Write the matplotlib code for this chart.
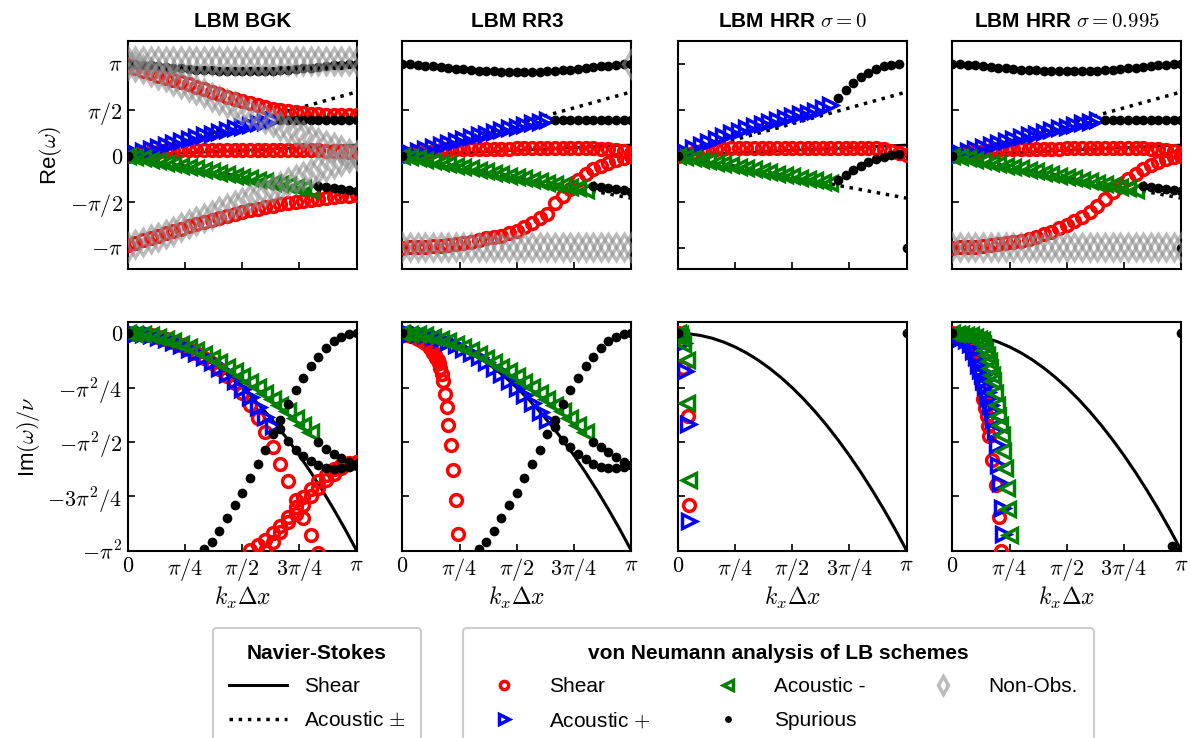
import numpy as np
import matplotlib.pyplot as plt
from matplotlib.lines import Line2D

plt.rcParams['font.family'] = ['Liberation Sans Narrow', 'Liberation Sans', 'DejaVu Sans']
plt.rcParams['mathtext.fontset'] = 'cm'

# wavenumber samples k_x dx / pi
K = [0.0, 0.033, 0.067, 0.1, 0.133, 0.167, 0.2, 0.233, 0.267, 0.3, 0.333,
     0.367, 0.4, 0.433, 0.467, 0.5, 0.533, 0.567, 0.6, 0.633, 0.667,
     0.7, 0.733, 0.767, 0.8, 0.833, 0.867, 0.9, 0.933, 0.967, 1.0]

titles = ['LBM BGK', 'LBM RR3', r'LBM HRR $\sigma=0$', r'LBM HRR $\sigma=0.995$']

# Navier-Stokes reference (Re in units of pi, Im/nu in units of pi^2)
ns_k = [0.0, 1.0]
ns_re_shear = [0.0, 0.115]
ns_re_acp = [0.0, 0.692]
ns_re_acm = [0.0, -0.462]
ns_k_im = [0.0, 0.05, 0.1, 0.15, 0.2, 0.25, 0.3, 0.35, 0.4, 0.45, 0.5,
           0.55, 0.6, 0.65, 0.7, 0.75, 0.8, 0.85, 0.9, 0.95, 1.0]
ns_im_shear = [0.0, -0.0025, -0.01, -0.0225, -0.04, -0.0625, -0.09, -0.1225, -0.16,
               -0.2025, -0.25, -0.3025, -0.36, -0.4225, -0.49, -0.5625, -0.64,
               -0.7225, -0.81, -0.9025, -1.0]

# ---------- Re(omega)/pi, series given as (first index in K, values) ----------
# BGK
bgk_re_spur_top = (0, [1.0, 0.995, 0.99, 0.982, 0.974, 0.966, 0.957, 0.95, 0.942, 0.935, 0.93,
                       0.925, 0.92, 0.917, 0.915, 0.914, 0.914, 0.915, 0.918, 0.922, 0.927,
                       0.933, 0.94, 0.948, 0.956, 0.964, 0.972, 0.98, 0.988, 0.995, 1.0])
bgk_re_spur_mid = (20, [0.392, 0.39, 0.39, 0.389, 0.388, 0.388, 0.387, 0.387, 0.386, 0.386, 0.386])
bgk_re_spur_low = (25, [-0.325, -0.337, -0.35, -0.362, -0.373, -0.385])
bgk_re_shear_up = (0, [0.98, 0.95, 0.92, 0.895, 0.87, 0.848, 0.825, 0.8, 0.775, 0.75, 0.722,
                       0.695, 0.668, 0.642, 0.617, 0.593, 0.57, 0.548, 0.528, 0.51, 0.495,
                       0.482, 0.471, 0.462, 0.455, 0.45, 0.446, 0.443, 0.441, 0.44, 0.44])
bgk_re_shear_mid = (0, [0.0, 0.012, 0.024, 0.035, 0.043, 0.05, 0.054, 0.057, 0.059, 0.06, 0.06,
                        0.06, 0.06, 0.06, 0.06, 0.06, 0.06, 0.06, 0.06, 0.06, 0.06,
                        0.06, 0.06, 0.06, 0.06, 0.058, 0.055, 0.05, 0.045, 0.04, 0.035])
bgk_re_shear_low = (0, [-0.97, -0.945, -0.92, -0.895, -0.87, -0.845, -0.82, -0.795, -0.77, -0.745,
                        -0.72, -0.697, -0.675, -0.653, -0.632, -0.612, -0.593, -0.575, -0.558,
                        -0.542, -0.527, -0.513, -0.5, -0.488, -0.477, -0.467, -0.458, -0.45,
                        -0.443, -0.437, -0.432])
bgk_re_acp = (0, [0.0, 0.025, 0.05, 0.073, 0.096, 0.118, 0.14, 0.16, 0.18, 0.2, 0.22, 0.24,
                  0.26, 0.278, 0.296, 0.314, 0.332, 0.35, 0.367, 0.383])
bgk_re_acm = (0, [0.0, -0.015, -0.031, -0.046, -0.062, -0.077, -0.092, -0.108, -0.123, -0.139,
                  -0.154, -0.169, -0.185, -0.2, -0.216, -0.231, -0.246, -0.262, -0.277,
                  -0.293, -0.308, -0.323, -0.339, -0.354, -0.37])
bgk_re_nonobs_top = (0, [1.03, 1.03, 1.03, 1.03, 1.03, 1.03, 1.03, 1.03, 1.03, 1.03, 1.03,
                         1.03, 1.03, 1.03, 1.03, 1.03, 1.03, 1.03, 1.03, 1.03, 1.03,
                         1.03, 1.03, 1.03, 1.03, 1.03, 1.03, 1.03, 1.03, 1.03, 1.03])
bgk_re_nonobs_dn = (0, [0.99, 0.965, 0.94, 0.91, 0.88, 0.85, 0.815, 0.78, 0.745, 0.71, 0.675,
                        0.64, 0.605, 0.57, 0.535, 0.5, 0.465, 0.43, 0.395, 0.36, 0.325,
                        0.29, 0.255, 0.22, 0.185, 0.15, 0.12, 0.09, 0.06, 0.03, 0.005])
bgk_re_nonobs_up = (0, [-0.99, -0.965, -0.94, -0.91, -0.88, -0.85, -0.815, -0.78, -0.745, -0.71,
                        -0.675, -0.64, -0.605, -0.57, -0.535, -0.5, -0.465, -0.43, -0.395,
                        -0.36, -0.325, -0.29, -0.255, -0.22, -0.185, -0.15, -0.12, -0.09,
                        -0.06, -0.03, -0.005])

# RR3
rr3_re_spur_top = (0, [1.0, 0.994, 0.987, 0.979, 0.97, 0.961, 0.952, 0.944, 0.936, 0.929, 0.923,
                       0.918, 0.914, 0.911, 0.909, 0.908, 0.908, 0.909, 0.912, 0.916, 0.921,
                       0.927, 0.934, 0.942, 0.951, 0.96, 0.969, 0.978, 0.987, 0.995, 1.0])
rr3_re_spur_mid = (20, [0.392, 0.39, 0.39, 0.389, 0.388, 0.388, 0.387, 0.387, 0.386, 0.386, 0.386])
rr3_re_spur_low = (25, [-0.325, -0.337, -0.35, -0.362, -0.373, -0.39])
rr3_re_shear_mid = (0, [0.0, 0.015, 0.03, 0.043, 0.053, 0.06, 0.065, 0.068, 0.07, 0.072, 0.073,
                        0.074, 0.075, 0.076, 0.077, 0.078, 0.078, 0.079, 0.079, 0.08, 0.08,
                        0.08, 0.08, 0.08, 0.079, 0.078, 0.075, 0.07, 0.06, 0.045, 0.03])
rr3_re_shear_low = (0, [-1.0, -0.998, -0.995, -0.99, -0.985, -0.978, -0.97, -0.96, -0.948, -0.935,
                        -0.92, -0.9, -0.88, -0.87, -0.845, -0.815, -0.78, -0.73, -0.68, -0.63,
                        -0.52, -0.44, -0.36, -0.27, -0.2, -0.15, -0.11, -0.075, -0.05, -0.025,
                        -0.005])
rr3_re_acp = bgk_re_acp
rr3_re_acm = bgk_re_acm
rr3_re_nonobs = (0, [-0.99, -0.99, -0.99, -0.99, -0.99, -0.99, -0.99, -0.99, -0.99, -0.99, -0.99,
                     -0.99, -0.99, -0.99, -0.99, -0.99, -0.99, -0.99, -0.99, -0.99, -0.99,
                     -0.99, -0.99, -0.99, -0.99, -0.99, -0.99, -0.99, -0.99, -0.99, -0.99])
rr3_re_nonobs_end = (30, [1.0])

# HRR sigma = 0
hrr0_re_shear_mid = (0, [0.0, 0.015, 0.03, 0.045, 0.058, 0.068, 0.075, 0.08, 0.083, 0.085, 0.086,
                         0.087, 0.087, 0.088, 0.088, 0.088, 0.088, 0.088, 0.088, 0.088, 0.088,
                         0.087, 0.087, 0.086, 0.085, 0.083, 0.078, 0.07, 0.055, 0.03, 0.005])
hrr0_re_acp = (0, [0.0, 0.04, 0.08, 0.115, 0.15, 0.185, 0.215, 0.245, 0.272, 0.298, 0.322,
                   0.345, 0.367, 0.388, 0.408, 0.428, 0.448, 0.468, 0.49, 0.515, 0.545])
hrr0_re_acm = (0, [0.0, -0.015, -0.03, -0.045, -0.06, -0.075, -0.09, -0.105, -0.12, -0.135,
                   -0.15, -0.165, -0.18, -0.195, -0.21, -0.225, -0.24, -0.255, -0.27,
                   -0.285, -0.3])
hrr0_re_spur_up = (21, [0.63, 0.71, 0.79, 0.85, 0.9, 0.945, 0.97, 0.985, 0.995])
hrr0_re_spur_low = (21, [-0.265, -0.21, -0.16, -0.11, -0.07, -0.037, -0.012, 0.005, 0.02])
hrr0_re_spur_end = (30, [-1.0])

# HRR sigma = 0.995
hrr_re_spur_top = bgk_re_spur_top
hrr_re_spur_mid = bgk_re_spur_mid
hrr_re_spur_low = bgk_re_spur_low
hrr_re_spur_end = (30, [-1.0])
hrr_re_shear_mid = rr3_re_shear_mid
hrr_re_shear_low = (0, [-1.0, -0.998, -0.995, -0.99, -0.983, -0.975, -0.965, -0.953, -0.94, -0.925,
                        -0.905, -0.88, -0.855, -0.825, -0.79, -0.75, -0.71, -0.665, -0.61,
                        -0.55, -0.475, -0.4, -0.325, -0.255, -0.195, -0.145, -0.105, -0.07,
                        -0.04, -0.015, 0.0])
hrr_re_acp = bgk_re_acp
hrr_re_acm = bgk_re_acm
hrr_re_nonobs = rr3_re_nonobs

# ---------- Im(omega)/nu / pi^2 ----------
bgk_im_acp = (0, [0.0, -0.001, -0.004, -0.01, -0.018, -0.028, -0.04, -0.054, -0.071, -0.09,
                  -0.111, -0.134, -0.16, -0.188, -0.22, -0.255, -0.295, -0.34, -0.385, -0.425])
bgk_im_acm = (0, [0.0, -0.001, -0.004, -0.009, -0.016, -0.025, -0.035, -0.048, -0.062, -0.077,
                  -0.094, -0.112, -0.132, -0.153, -0.175, -0.198, -0.222, -0.247, -0.273,
                  -0.3, -0.328, -0.357, -0.388, -0.42, -0.455])
bgk_im_shear = (0, [0.0, -0.001, -0.004, -0.01, -0.018, -0.028, -0.04, -0.055, -0.072, -0.092,
                    -0.114, -0.138, -0.165, -0.195, -0.23, -0.275, -0.33, -0.39, -0.455,
                    -0.525, -0.6, -0.68, -0.765, -0.85, -0.93, -1.01])
bgk_im_shear_b = (16, [-0.995, -0.975, -0.95, -0.92, -0.885, -0.845, -0.8, -0.755, -0.715,
                       -0.68, -0.65, -0.625, -0.607, -0.595, -0.59])
bgk_im_shear_c = (18, [-1.0, -0.96, -0.915, -0.87, -0.83, -0.79, -0.75, -0.71, -0.675, -0.645,
                       -0.62, -0.6, -0.59])
bgk_im_spur_rise = (10, [-0.99, -0.962, -0.91, -0.85, -0.79, -0.735, -0.665, -0.6, -0.535, -0.465,
                         -0.4, -0.325, -0.26, -0.205, -0.15, -0.107, -0.066, -0.037, -0.015,
                         -0.004, 0.0])
bgk_im_spur_mid = (20, [-0.44, -0.495, -0.535, -0.565, -0.588, -0.606, -0.618, -0.622, -0.62,
                        -0.615, -0.61])
bgk_im_spur_low = (25, [-0.5, -0.53, -0.553, -0.575, -0.59, -0.6])

rr3_im_acp = (0, [0.0, -0.001, -0.004, -0.01, -0.018, -0.028, -0.04, -0.054, -0.071, -0.09,
                  -0.111, -0.134, -0.16, -0.188, -0.218, -0.25, -0.284, -0.321, -0.36, -0.4])
rr3_im_acm = bgk_im_acm
rr3_im_shear_k = [0.0, 0.01, 0.026, 0.04, 0.055, 0.07, 0.085, 0.099, 0.111, 0.121, 0.129, 0.135,
                  0.143, 0.149, 0.155, 0.16, 0.165, 0.172, 0.179, 0.186, 0.194, 0.201, 0.213,
                  0.223, 0.233, 0.245]
rr3_im_shear = [0.0, -0.002, -0.006, -0.012, -0.018, -0.025, -0.034, -0.045, -0.056, -0.068,
                -0.079, -0.09, -0.102, -0.114, -0.125, -0.137, -0.16, -0.187, -0.221, -0.279,
                -0.34, -0.42, -0.515, -0.627, -0.765, -0.923]
rr3_im_spur_rise = bgk_im_spur_rise
rr3_im_spur_mid = (20, [-0.43, -0.49, -0.525, -0.555, -0.58, -0.6, -0.613, -0.62, -0.62,
                        -0.615, -0.607])
rr3_im_spur_low = (25, [-0.5, -0.522, -0.545, -0.567, -0.59, -0.606])

hrr0_im_shear_k = [0.0, 0.01, 0.02, 0.025, 0.044, 0.049]
hrr0_im_shear = [0.0, -0.01, -0.03, -0.16, -0.379, -0.788]
hrr0_im_acp_k = [0.0, 0.01, 0.025, 0.032, 0.044, 0.049]
hrr0_im_acp = [0.0, -0.015, -0.045, -0.175, -0.417, -0.862]
hrr0_im_acm_k = [0.0, 0.008, 0.015, 0.022, 0.039, 0.039, 0.049]
hrr0_im_acm = [0.0, -0.005, -0.02, -0.05, -0.121, -0.32, -0.673]
hrr0_im_spur_k = [0.0, 1.0]
hrr0_im_spur = [0.0, 0.0]

hrr_im_acm_k = [0.0, 0.02, 0.04, 0.06, 0.08, 0.1, 0.115, 0.128, 0.136, 0.143, 0.15, 0.158,
                0.165, 0.172, 0.179, 0.186, 0.194, 0.201, 0.208, 0.216, 0.223, 0.23, 0.238,
                0.245, 0.252]
hrr_im_acm = [0.0, -0.001, -0.003, -0.006, -0.01, -0.016, -0.024, -0.032, -0.05, -0.075, -0.098,
              -0.128, -0.16, -0.19, -0.22, -0.275, -0.328, -0.382, -0.42, -0.466, -0.54, -0.62,
              -0.71, -0.81, -0.926]
hrr_im_acp_k = [0.0, 0.02, 0.04, 0.06, 0.075, 0.092, 0.104, 0.114, 0.121, 0.128, 0.136, 0.143,
                0.15, 0.157, 0.165, 0.172, 0.179, 0.186, 0.194, 0.201, 0.208, 0.216, 0.223]
hrr_im_acp = [0.0, -0.01, -0.02, -0.032, -0.05, -0.083, -0.11, -0.144, -0.168, -0.192, -0.218,
              -0.244, -0.27, -0.298, -0.33, -0.359, -0.4, -0.45, -0.512, -0.604, -0.689, -0.804,
              -0.923]
hrr_im_shear_k = [0.0, 0.02, 0.04, 0.06, 0.075, 0.09, 0.1, 0.11, 0.118, 0.128, 0.136, 0.144,
                  0.15, 0.156, 0.162, 0.172, 0.191, 0.205, 0.211]
hrr_im_shear = [0.0, -0.008, -0.018, -0.032, -0.05, -0.08, -0.1, -0.135, -0.18, -0.244, -0.3,
                -0.345, -0.382, -0.425, -0.474, -0.581, -0.696, -0.846, -1.0]
hrr_im_spur_k = [0.0, 0.96, 0.99, 1.0]
hrr_im_spur = [0.0, -0.978, -1.0, 0.0]

origin_k = [0.0]
origin_v = [0.0]

# ---------- styles ----------
PI = np.pi
RED = dict(ls='none', marker='o', ms=8.5, mfc='none', mec='#ff0000', mew=2.5, zorder=3)
BLUE = dict(ls='none', marker='>', ms=10, mfc='none', mec='#0000ff', mew=2.5, zorder=3)
GREEN = dict(ls='none', marker='<', ms=10, mfc='none', mec='#008000', mew=2.5, zorder=3)
BLACK = dict(ls='none', marker='o', ms=7, mfc='black', mec='black', mew=0, zorder=4)
GRAY = dict(ls='none', marker='d', ms=13, mfc='none', mec='#8f8f8f', mew=2.5, alpha=0.6, zorder=5)


def seg(s):
    i0, vals = s
    return K[i0:i0 + len(vals)], vals


def pts(ax, xs, ys, scale, style):
    return ax.plot(np.array(xs) * PI, np.array(ys) * scale, **style)[0]


def sp(ax, s, scale, style):
    xs, ys = seg(s)
    return pts(ax, xs, ys, scale, style)


fig = plt.figure(figsize=(11.91, 7.38), dpi=100)
lefts = [0.1072, 0.3378, 0.5690, 0.7996]
w, h = 0.1923, 0.3093
top_axes = [fig.add_axes([l, 0.6351, w, h]) for l in lefts]
bot_axes = [fig.add_axes([l, 0.2538, w, h]) for l in lefts]

handles = {}
for ax in top_axes:
    pts(ax, ns_k, ns_re_shear, PI, dict(color='black', lw=2, zorder=1))
    pts(ax, ns_k, ns_re_acp, PI, dict(color='black', lw=2.5, ls=':', zorder=1))
    pts(ax, ns_k, ns_re_acm, PI, dict(color='black', lw=2.5, ls=':', zorder=1))
for ax in bot_axes:
    handles['ns_shear'] = pts(ax, ns_k_im, ns_im_shear, PI ** 2,
                              dict(color='black', lw=2.2, zorder=1))

# BGK
ax = top_axes[0]
for s in (bgk_re_shear_up, bgk_re_shear_mid, bgk_re_shear_low):
    handles['shear'] = sp(ax, s, PI, RED)
handles['acp'] = sp(ax, bgk_re_acp, PI, BLUE)
handles['acm'] = sp(ax, bgk_re_acm, PI, GREEN)
for s in (bgk_re_spur_top, bgk_re_spur_mid, bgk_re_spur_low):
    handles['spur'] = sp(ax, s, PI, BLACK)
pts(ax, origin_k, origin_v, PI, BLACK)
for s in (bgk_re_nonobs_top, bgk_re_nonobs_dn, bgk_re_nonobs_up):
    handles['nonobs'] = sp(ax, s, PI, GRAY)

ax = bot_axes[0]
for s in (bgk_im_shear, bgk_im_shear_b, bgk_im_shear_c):
    sp(ax, s, PI ** 2, RED)
sp(ax, bgk_im_acp, PI ** 2, BLUE)
sp(ax, bgk_im_acm, PI ** 2, GREEN)
for s in (bgk_im_spur_rise, bgk_im_spur_mid, bgk_im_spur_low):
    sp(ax, s, PI ** 2, BLACK)
pts(ax, origin_k, origin_v, PI ** 2, BLACK)

# RR3
ax = top_axes[1]
for s in (rr3_re_shear_mid, rr3_re_shear_low):
    sp(ax, s, PI, RED)
sp(ax, rr3_re_acp, PI, BLUE)
sp(ax, rr3_re_acm, PI, GREEN)
for s in (rr3_re_spur_top, rr3_re_spur_mid, rr3_re_spur_low):
    sp(ax, s, PI, BLACK)
pts(ax, origin_k, origin_v, PI, BLACK)
for s in (rr3_re_nonobs, rr3_re_nonobs_end):
    sp(ax, s, PI, GRAY)

ax = bot_axes[1]
pts(ax, rr3_im_shear_k, rr3_im_shear, PI ** 2, RED)
sp(ax, rr3_im_acp, PI ** 2, BLUE)
sp(ax, rr3_im_acm, PI ** 2, GREEN)
for s in (rr3_im_spur_rise, rr3_im_spur_mid, rr3_im_spur_low):
    sp(ax, s, PI ** 2, BLACK)
pts(ax, origin_k, origin_v, PI ** 2, BLACK)

# HRR sigma = 0
ax = top_axes[2]
sp(ax, hrr0_re_shear_mid, PI, RED)
sp(ax, hrr0_re_acp, PI, BLUE)
sp(ax, hrr0_re_acm, PI, GREEN)
for s in (hrr0_re_spur_up, hrr0_re_spur_low, hrr0_re_spur_end):
    sp(ax, s, PI, BLACK)
pts(ax, origin_k, origin_v, PI, BLACK)

ax = bot_axes[2]
pts(ax, hrr0_im_shear_k, hrr0_im_shear, PI ** 2, RED)
pts(ax, hrr0_im_acp_k, hrr0_im_acp, PI ** 2, BLUE)
pts(ax, hrr0_im_acm_k, hrr0_im_acm, PI ** 2, GREEN)
pts(ax, hrr0_im_spur_k, hrr0_im_spur, PI ** 2, BLACK)

# HRR sigma = 0.995
ax = top_axes[3]
for s in (hrr_re_shear_mid, hrr_re_shear_low):
    sp(ax, s, PI, RED)
sp(ax, hrr_re_acp, PI, BLUE)
sp(ax, hrr_re_acm, PI, GREEN)
for s in (hrr_re_spur_top, hrr_re_spur_mid, hrr_re_spur_low, hrr_re_spur_end):
    sp(ax, s, PI, BLACK)
pts(ax, origin_k, origin_v, PI, BLACK)
sp(ax, hrr_re_nonobs, PI, GRAY)

ax = bot_axes[3]
pts(ax, hrr_im_shear_k, hrr_im_shear, PI ** 2, RED)
pts(ax, hrr_im_acp_k, hrr_im_acp, PI ** 2, BLUE)
pts(ax, hrr_im_acm_k, hrr_im_acm, PI ** 2, GREEN)
pts(ax, hrr_im_spur_k, hrr_im_spur, PI ** 2, BLACK)

# axes cosmetics
xt = [0, PI / 4, PI / 2, 3 * PI / 4, PI]
xtl = [r'$0$', r'$\pi/4$', r'$\pi/2$', r'$3\pi/4$', r'$\pi$']
for j, (at, ab) in enumerate(zip(top_axes, bot_axes)):
    for ax in (at, ab):
        ax.set_xlim(0, PI)
        ax.set_xticks(xt)
        ax.tick_params(direction='in', length=5, width=1.2, labelsize=16)
        for sp_ in ax.spines.values():
            sp_.set_linewidth(1.5)
    at.set_ylim(-1.235 * PI, 1.245 * PI)
    at.set_yticks([-PI, -PI / 2, 0, PI / 2, PI])
    at.set_xticklabels([])
    ab.set_ylim(-PI ** 2, 0.05 * PI ** 2)
    ab.set_yticks([-PI ** 2, -3 * PI ** 2 / 4, -PI ** 2 / 2, -PI ** 2 / 4, 0])
    ab.set_xticklabels(xtl)
    ab.set_xlabel(r'$k_x\Delta x$', fontsize=17, labelpad=2)
    at.set_title(titles[j], fontsize=15, fontweight='bold', pad=10)
    if j == 0:
        at.set_yticklabels([r'$-\pi$', r'$-\pi/2$', r'$0$', r'$\pi/2$', r'$\pi$'])
        ab.set_yticklabels([r'$-\pi^2$', r'$-3\pi^2/4$', r'$-\pi^2/2$', r'$-\pi^2/4$', r'$0$'])
        at.set_ylabel(r'Re$(\omega)$', fontsize=16)
        ab.set_ylabel(r'Im$(\omega)/\nu$', fontsize=16)
    else:
        at.set_yticklabels([])
        ab.set_yticklabels([])

dotted = Line2D([], [], color='black', lw=2.5, ls=':')
leg1 = fig.legend([handles['ns_shear'], dotted], ['Shear', r'Acoustic $\pm$'],
                  loc='upper left', bbox_to_anchor=(213 / 1191, 1 - 628 / 738), borderaxespad=0,
                  title='Navier-Stokes', fontsize=15, title_fontproperties={'weight': 'bold', 'size': 15},
                  frameon=True, edgecolor='#cccccc', framealpha=1, handlelength=2.8,
                  handletextpad=0.8, borderpad=0.75, labelspacing=0.7)
leg1.get_frame().set_linewidth(1.5)
leg2 = fig.legend([handles['shear'], handles['acp'], handles['acm'], handles['spur'],
                   handles['nonobs']],
                  ['Shear', r'Acoustic $+$', 'Acoustic -', 'Spurious', 'Non-Obs.'],
                  loc='upper left', bbox_to_anchor=(463 / 1191, 1 - 628 / 738), ncol=3,
                  borderaxespad=0, markerscale=0.7,
                  title='von Neumann analysis of LB schemes', fontsize=15,
                  title_fontproperties={'weight': 'bold', 'size': 15},
                  frameon=True, edgecolor='#cccccc', framealpha=1, handlelength=2.4,
                  handletextpad=1.0, columnspacing=2.5, borderpad=0.75, labelspacing=0.7)
leg2.get_frame().set_linewidth(1.5)

fig.savefig('out.png', dpi=100)
